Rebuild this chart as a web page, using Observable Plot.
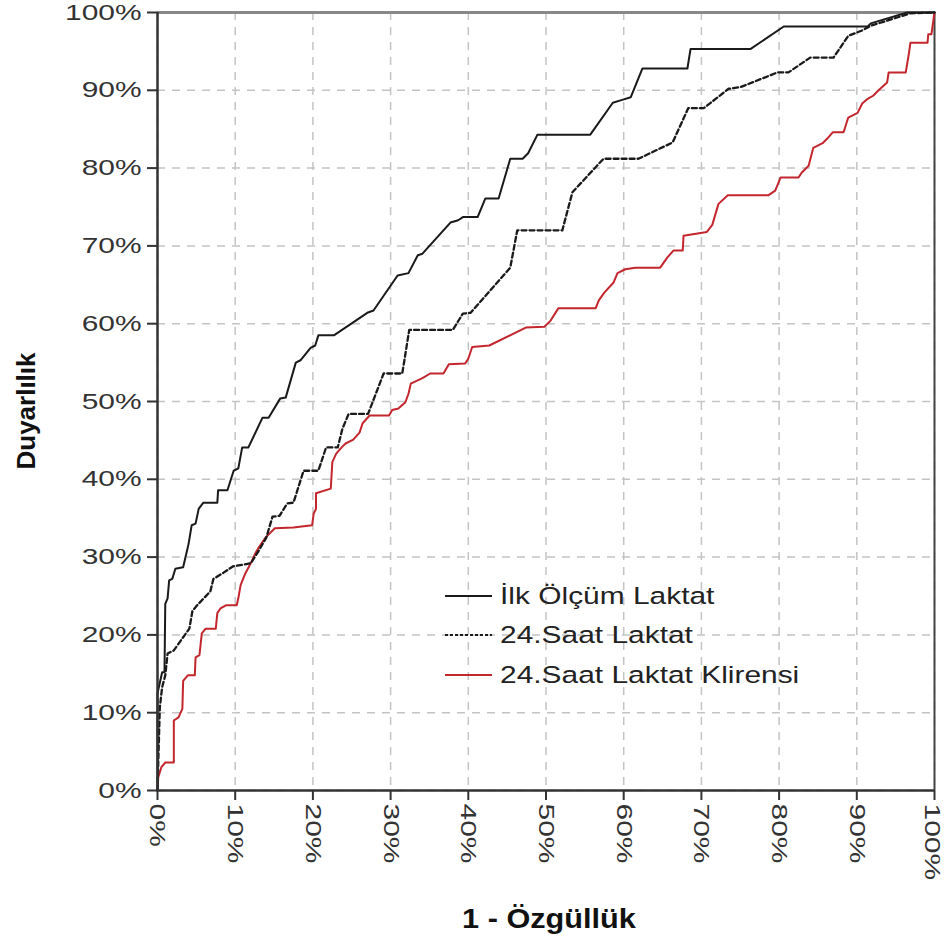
<!DOCTYPE html>
<html><head><meta charset="utf-8">
<script src="https://cdn.jsdelivr.net/npm/d3@7"></script>
<script src="https://cdn.jsdelivr.net/npm/@observablehq/plot@0.6"></script>
<style>body{margin:0;background:#fff}#chart{width:946px;height:944px}</style>
</head><body><div id="chart"></div>
<script>
// Series names (legend)
const seriesNames = ["İlk Ölçüm Laktat", "24.Saat Laktat", "24.Saat Laktat Klirensi"];
const xTitle = "1 - Özgüllük";
const yTitle = "Duyarlılık";
const tickValues = [0, 10, 20, 30, 40, 50, 60, 70, 80, 90, 100];

// İlk Ölçüm Laktat: 1 - specificity (%) and sensitivity (%)
const ilkFpr = [0,0,0.6,0.9,1.0,1.3,1.5,1.9,2.3,3.3,3.7,4.0,4.4,4.9,5.3,5.9,7.7,7.8,9.0,9.8,10.4,10.9,11.7,13.5,14.3,15.8,16.5,17.8,18.4,19.7,20.3,20.7,22.7,27.0,27.8,30.9,32.3,33.5,34.1,37.7,38.7,39.3,41.2,42.2,43.9,45.4,47.0,47.7,48.9,55.7,58.6,59.6,60.9,62.4,68.2,68.6,76.3,80.6,91.4,91.8,96.5,100];
const ilkTpr = [0,12.5,15.2,15.2,24.0,24.7,27.0,27.2,28.5,28.7,30.4,31.7,34.1,34.3,36.2,37.0,37.0,38.6,38.6,41.1,41.4,44.1,44.1,47.9,47.9,50.4,50.5,55.0,55.3,56.9,57.2,58.5,58.5,61.4,61.7,66.2,66.5,68.8,69.0,73.0,73.3,73.7,73.7,76.1,76.1,81.2,81.2,81.9,84.3,84.3,88.4,88.7,89.1,92.8,92.8,95.3,95.3,98.2,98.2,98.6,100,100];

// 24.Saat Laktat
const s24Fpr = [0,0.3,0.6,1.0,1.3,2.1,3.3,4.1,4.5,5.1,6.8,7.2,8.5,9.7,12.0,12.9,14.0,14.8,15.7,16.7,17.5,18.8,20.7,21.7,23.2,23.8,24.6,27.1,29.1,31.5,32.4,38.0,39.3,40.3,45.4,46.3,52.1,53.4,57.4,61.9,66.3,68.3,70.3,73.5,75.0,79.8,81.2,84.0,87.0,88.9,90.7,91.8,94.7,96.9,100];
const s24Tpr = [0,10.7,13.3,14.8,17.6,18.0,19.7,20.8,23.1,23.8,25.6,27.2,28.0,28.8,29.2,30.6,32.5,35.2,35.3,36.9,37.0,41.1,41.1,44.1,44.1,46.5,48.4,48.4,53.6,53.6,59.2,59.2,61.3,61.4,67.2,72.0,72.0,76.9,81.2,81.2,83.3,87.7,87.7,90.2,90.4,92.3,92.3,94.2,94.2,97.0,97.7,98.3,99.2,99.9,100];

// 24.Saat Laktat Klirensi
const klFpr = [0,0.1,0.5,1.0,2.1,2.1,2.7,3.2,3.3,3.9,4.8,4.9,5.4,5.7,6.2,7.5,7.7,8.1,8.8,10.2,10.4,10.7,11.3,12.0,12.6,13.0,13.9,15.1,17.5,19.9,20.1,20.4,20.4,22.3,22.5,23.0,23.7,24.2,25.2,26.0,26.4,27.3,29.8,30.2,31.0,31.9,32.3,32.6,34.1,35.1,36.8,37.5,39.6,40.0,40.5,42.7,47.4,49.8,50.6,51.6,56.4,56.8,57.5,58.7,59.2,60.2,61.5,64.7,65.6,66.4,67.6,67.7,70.7,71.4,72.2,73.4,78.6,79.5,80.2,82.5,82.9,83.8,84.4,85.6,86.2,86.9,88.3,88.9,90.1,90.7,91.4,92.1,92.8,93.9,94.1,96.3,96.7,96.9,99.1,99.2,99.6,100];
const klTpr = [0,1.7,3.0,3.6,3.6,9.0,9.4,10.5,14.1,14.8,14.8,17.1,17.4,20.2,20.8,20.8,22.8,23.4,23.8,23.8,24.7,26.4,27.9,29.2,30.5,31.2,32.5,33.7,33.8,34.1,35.6,36.2,38.2,38.8,42.2,43.3,44.1,44.6,45.1,46.0,47.2,48.2,48.2,48.9,49.1,49.9,51.0,52.3,53.0,53.6,53.6,54.8,54.9,55.5,57.0,57.2,59.5,59.6,60.4,62.0,62.0,63.0,64.0,65.3,66.5,67.0,67.2,67.2,68.5,69.4,69.4,71.3,71.8,72.7,75.4,76.5,76.5,77.1,78.8,78.8,79.4,80.3,82.6,83.2,83.8,84.6,84.6,86.5,87.1,88.3,88.9,89.3,90.0,91.0,92.3,92.3,94.7,96.1,96.1,97.2,97.2,100];

const toRows = (xs, ys) => xs.map((x, i) => ({x, y: ys[i]}));
const ilkRows = toRows(ilkFpr, ilkTpr);
const s24Rows = toRows(s24Fpr, s24Tpr);
const klRows = toRows(klFpr, klTpr);

const styles = [
  {stroke: "#1a1a1a", strokeWidth: 2, strokeDasharray: null},
  {stroke: "#1a1a1a", strokeWidth: 2.3, strokeDasharray: "5,3"},
  {stroke: "#c4262e", strokeWidth: 2, strokeDasharray: null}
];

const plot = Plot.plot({
  width: 946, height: 944,
  marginLeft: 157, marginRight: 12, marginTop: 12, marginBottom: 154,
  style: {fontFamily: "'Liberation Sans', Arial, sans-serif", fontSize: "22px", color: "#333", background: "#fff"},
  x: {domain: [0, 100], label: null},
  y: {domain: [0, 100], label: null},
  marks: [
    Plot.gridX(tickValues, {stroke: "#c4c4c4", strokeOpacity: 1, strokeWidth: 1.5, strokeDasharray: "8,7"}),
    Plot.gridY(tickValues, {stroke: "#c4c4c4", strokeOpacity: 1, strokeWidth: 1.5, strokeDasharray: "8,7"}),
    Plot.axisY(tickValues, {tickFormat: d => d + "%", tickSize: 10, tickPadding: 6, stroke: "#333", strokeWidth: 2, fill: "#333", label: null}),
    Plot.axisX(tickValues, {tickFormat: d => d + "%", tickSize: 10, tickPadding: 3, tickRotate: 90, stroke: "#333", strokeWidth: 2, fill: "#333", label: null}),
    Plot.ruleY([100], {stroke: "#888", strokeWidth: 3}),
    Plot.ruleX([100], {stroke: "#444", strokeWidth: 2}),
    Plot.line(klRows, {x: "x", y: "y", ...styles[2]}),
    Plot.line(s24Rows, {x: "x", y: "y", ...styles[1]}),
    Plot.line(ilkRows, {x: "x", y: "y", ...styles[0]}),
    Plot.ruleX([0], {stroke: "#333", strokeWidth: 2.5}),
    Plot.ruleY([0], {stroke: "#333", strokeWidth: 2.5})
  ]
});
document.getElementById("chart").appendChild(plot);

// Stretch tick label text along the reading direction (as in the reference)
function stretch(sel, sx, sy, lastShift) {
  const nodes = d3.select(plot).selectAll(sel).nodes();
  nodes.forEach((el, i) => {
    const t = el.getAttribute("transform") || "";
    const shift = (lastShift && i === nodes.length - 1) ? ` translate(0,${lastShift})` : "";
    el.setAttribute("transform", t + shift + ` scale(${sx},${sy})`);
  });
}
stretch('g[aria-label="y-axis tick label"] text', 1.36, 1, 0);
stretch('g[aria-label="x-axis tick label"] text', 1.36, 1, 2);

const svg = d3.select(plot);
// Axis titles
svg.append("text").attr("transform", "translate(549,928) scale(1.18,1.08)")
  .attr("text-anchor", "middle").attr("font-weight", "bold").attr("font-size", 26)
  .attr("fill", "#111").text(xTitle);
svg.append("text").attr("transform", "translate(35,411) rotate(-90)")
  .attr("text-anchor", "middle").attr("font-weight", "bold").attr("font-size", 26)
  .attr("fill", "#111").text(yTitle);

// Legend
const legY = [596, 635, 675];
seriesNames.forEach((name, i) => {
  const st = styles[i];
  const ln = svg.append("line").attr("x1", 445).attr("x2", 492).attr("y1", legY[i]).attr("y2", legY[i])
    .attr("stroke", st.stroke).attr("stroke-width", 2);
  if (st.strokeDasharray) ln.attr("stroke-dasharray", "3,2");
  svg.append("text").attr("transform", `translate(500,${legY[i]}) scale(1.36,1.05)`)
    .attr("text-anchor", "start").attr("dy", "0.36em").attr("font-size", 22).attr("fill", "#222").text(name);
});
</script>
</body></html>
